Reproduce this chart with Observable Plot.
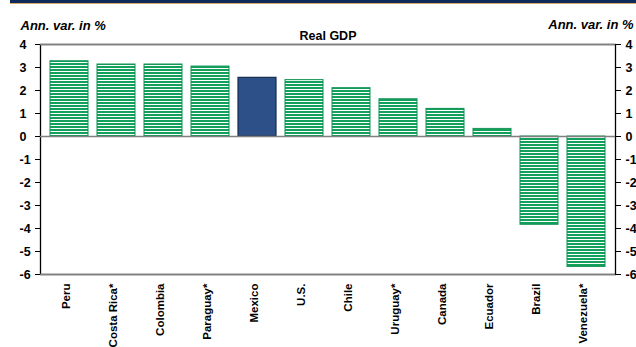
<!DOCTYPE html>
<html>
<head>
<meta charset="utf-8">
<script src="https://cdn.jsdelivr.net/npm/d3@7"></script>
<script src="https://cdn.jsdelivr.net/npm/@observablehq/plot@0.6"></script>
<style>
  html, body { margin: 0; padding: 0; background: #fff; }
  #wrap { position: relative; width: 636px; height: 347px; overflow: hidden; }
  #band { position: absolute; left: 10px; top: 0; width: 626px; height: 3px; background: #0f2a5a; border-bottom: 1.5px solid #d9a86a; }
</style>
</head>
<body>
<div id="wrap"><div id="band"></div></div>
<script>
const categories = ["Peru","Costa Rica*","Colombia","Paraguay*","Mexico","U.S.","Chile","Uruguay*","Canada","Ecuador","Brazil","Venezuela*"];
const values = [3.27, 3.13, 3.13, 3.04, 2.55, 2.45, 2.10, 1.62, 1.20, 0.33, -3.84, -5.67];
const highlighted = "Mexico";
const yTicks = [-6, -5, -4, -3, -2, -1, 0, 1, 2, 3, 4];
const unitLabel = "Ann. var. in %";
const title = "Real GDP";

const data = categories.map((c, i) => ({country: c, value: values[i]}));

const defs = () => {
  const ns = "http://www.w3.org/2000/svg";
  const d = document.createElementNS(ns, "defs");
  const p = document.createElementNS(ns, "pattern");
  p.setAttribute("id", "stripes");
  p.setAttribute("patternUnits", "userSpaceOnUse");
  p.setAttribute("x", "0");
  p.setAttribute("y", "0");
  p.setAttribute("width", "8");
  p.setAttribute("height", "3");
  const bg = document.createElementNS(ns, "rect");
  bg.setAttribute("width", "8"); bg.setAttribute("height", "3"); bg.setAttribute("fill", "#ffffff");
  const ln = document.createElementNS(ns, "rect");
  ln.setAttribute("width", "8"); ln.setAttribute("height", "2"); ln.setAttribute("fill", "#13a05c");
  p.appendChild(bg); p.appendChild(ln); d.appendChild(p);
  return d;
};

const font = "Arial, 'Liberation Sans', sans-serif";

const chart = Plot.plot({
  width: 636, height: 347,
  marginTop: 44, marginBottom: 73, marginLeft: 40, marginRight: 21,
  style: {fontFamily: font, fontSize: "12px", fontWeight: "bold", color: "#000", background: "transparent", overflow: "visible"},
  x: {domain: categories, paddingInner: 0.2, paddingOuter: 0.12, axis: null},
  y: {domain: [-6, 4], axis: null},
  marks: [
    defs,
    Plot.frame({stroke: "#000", strokeWidth: 1.3}),
    Plot.ruleY([4, -6], {stroke: "#7f7f7f", strokeWidth: 1.6}),
    Plot.barY(data.filter(d => d.country !== highlighted), {x: "country", y: "value", fill: "url(#stripes)", stroke: "#0b9150", strokeWidth: 1}),
    Plot.barY(data.filter(d => d.country === highlighted), {x: "country", y: "value", fill: "#2e5088", stroke: "#172c55", strokeWidth: 1.2}),
    Plot.ruleY([0], {stroke: "#7f7f7f", strokeWidth: 1.6}),
    Plot.axisY(yTicks, {anchor: "left", label: null, tickSize: 5, tickPadding: 16, textAnchor: "start", tickFormat: d => String(d), fontSize: 12.5, fontWeight: "bold", stroke: "#000"}),
    Plot.axisY(yTicks, {anchor: "right", label: null, tickSize: 5, tickPadding: 5, textAnchor: "start", tickFormat: d => String(d), fontSize: 12.5, fontWeight: "bold", stroke: "#000"}),
    Plot.text(categories, {x: d => d, frameAnchor: "bottom", rotate: -90, textAnchor: "end", dy: 9, fontSize: 11.5, fontWeight: "bold", fill: "#000"}),
    Plot.text([unitLabel], {frameAnchor: "top-left", dx: -20, dy: -24, textAnchor: "start", fontStyle: "italic", fontSize: 13, fontWeight: "bold", fill: "#000"}),
    Plot.text([unitLabel], {frameAnchor: "top-right", dx: 18, dy: -25, textAnchor: "end", fontStyle: "italic", fontSize: 13, fontWeight: "bold", fill: "#000"}),
    Plot.text([title], {frameAnchor: "top", dy: -13, fontSize: 12.5, fontWeight: "bold", fill: "#000", letterSpacing: "1px"})
  ]
});
chart.style.position = "absolute";
chart.style.left = "0";
chart.style.top = "0";
document.getElementById("wrap").appendChild(chart);
</script>
</body>
</html>
